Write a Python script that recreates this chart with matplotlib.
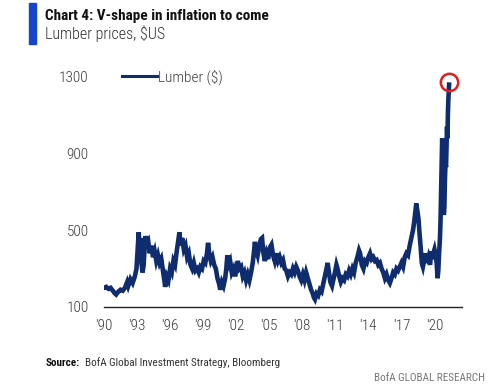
import matplotlib
matplotlib.use("Agg")
import matplotlib.pyplot as plt
import numpy as np

plt.rcParams['font.family'] = ['Roboto Condensed', 'Liberation Sans Narrow', 'Lato', 'DejaVu Sans']

# lumber price (decimal year, $)
years = [
    1990.0, 1990.2, 1990.4, 1990.6, 1990.8, 1991.0, 1991.1, 1991.3, 1991.5, 1991.7,
    1991.9, 1992.1, 1992.2, 1992.4, 1992.6, 1992.8, 1992.95, 1993.05, 1993.15, 1993.22,
    1993.3, 1993.4, 1993.5, 1993.6, 1993.75, 1993.85, 1994.0, 1994.15, 1994.3, 1994.45,
    1994.6, 1994.75, 1994.9, 1995.05, 1995.2, 1995.35, 1995.5, 1995.55, 1995.7, 1995.85,
    1996.0, 1996.15, 1996.3, 1996.45, 1996.6, 1996.75, 1996.85, 1996.95, 1997.1, 1997.25,
    1997.4, 1997.55, 1997.7, 1997.85, 1998.0, 1998.15, 1998.3, 1998.45, 1998.6, 1998.75,
    1998.9, 1999.05, 1999.2, 1999.35, 1999.45, 1999.55, 1999.7, 1999.85, 2000.0, 2000.15,
    2000.3, 2000.45, 2000.55, 2000.7, 2000.85, 2001.0, 2001.1, 2001.2, 2001.3, 2001.45,
    2001.6, 2001.75, 2001.9, 2002.0, 2002.15, 2002.3, 2002.45, 2002.6, 2002.75, 2002.9,
    2003.05, 2003.2, 2003.35, 2003.5, 2003.6, 2003.7, 2003.8, 2003.95, 2004.1, 2004.25,
    2004.35, 2004.45, 2004.6, 2004.75, 2004.9, 2005.05, 2005.2, 2005.35, 2005.5, 2005.65,
    2005.8, 2005.95, 2006.1, 2006.25, 2006.4, 2006.55, 2006.7, 2006.85, 2007.0, 2007.15,
    2007.3, 2007.45, 2007.6, 2007.75, 2007.9, 2008.05, 2008.2, 2008.35, 2008.5, 2008.65,
    2008.8, 2008.95, 2009.05, 2009.15, 2009.3, 2009.45, 2009.6, 2009.75, 2009.9, 2010.05,
    2010.2, 2010.3, 2010.4, 2010.55, 2010.7, 2010.85, 2011.0, 2011.1, 2011.2, 2011.35,
    2011.5, 2011.65, 2011.8, 2011.95, 2012.1, 2012.25, 2012.4, 2012.55, 2012.7, 2012.85,
    2013.0, 2013.15, 2013.25, 2013.4, 2013.55, 2013.7, 2013.85, 2014.0, 2014.15, 2014.3,
    2014.45, 2014.6, 2014.75, 2014.9, 2015.05, 2015.2, 2015.35, 2015.5, 2015.65, 2015.8,
    2015.95, 2016.1, 2016.25, 2016.4, 2016.55, 2016.7, 2016.85, 2017.0, 2017.15, 2017.3,
    2017.45, 2017.6, 2017.75, 2017.9, 2018.05, 2018.15, 2018.25, 2018.35, 2018.45, 2018.55,
    2018.65, 2018.75, 2018.85, 2018.95, 2019.05, 2019.2, 2019.3, 2019.45, 2019.6, 2019.7,
    2019.8, 2019.9, 2020.0, 2020.1, 2020.2, 2020.28, 2020.35, 2020.42, 2020.5, 2020.55,
    2020.6, 2020.65, 2020.7, 2020.75, 2020.8, 2020.85, 2020.9, 2020.95, 2021.0, 2021.05,
    2021.1, 2021.14, 2021.18, 2021.22, 2021.26, 2021.3, 2021.33,
]
lumber = [
    200, 205, 195, 200, 185, 170, 165, 180, 190, 185,
    200, 230, 210, 245, 225, 260, 300, 400, 490, 420,
    460, 330, 280, 320, 470, 440, 450, 380, 420, 360,
    390, 340, 370, 330, 350, 290, 230, 205, 260, 240,
    300, 280, 340, 320, 390, 450, 490, 420, 460, 400,
    420, 360, 380, 320, 300, 330, 290, 300, 280, 310,
    300, 340, 330, 380, 435, 380, 340, 360, 320, 300,
    250, 220, 190, 230, 210, 250, 300, 370, 320, 340,
    280, 300, 260, 290, 340, 300, 310, 260, 280, 240,
    270, 240, 280, 330, 380, 440, 400, 370, 420, 455,
    460, 390, 340, 380, 350, 410, 425, 370, 340, 380,
    340, 360, 330, 345, 300, 290, 260, 280, 270, 300,
    280, 310, 290, 260, 240, 270, 240, 280, 250, 220,
    190, 170, 150, 140, 170, 160, 190, 180, 220, 260,
    300, 330, 290, 230, 210, 250, 290, 320, 300, 260,
    230, 250, 240, 270, 260, 290, 270, 300, 280, 330,
    360, 395, 380, 320, 300, 340, 330, 360, 380, 350,
    360, 340, 345, 320, 330, 300, 280, 250, 270, 240,
    225, 250, 280, 270, 300, 290, 310, 330, 310, 360,
    380, 370, 420, 460, 500, 540, 590, 640, 600, 560,
    480, 410, 330, 310, 340, 380, 330, 360, 320, 390,
    350, 380, 400, 370, 330, 250, 290, 380, 460, 550,
    700, 850, 980, 900, 700, 580, 620, 760, 850, 830,
    940, 1040, 980, 1110, 1180, 1220, 1260,
]
yticks = [100, 500, 900, 1300]
xtick_years = [1990, 1993, 1996, 1999, 2002, 2005, 2008, 2011, 2014, 2017, 2020]
xtick_labels = ["'90", "'93", "'96", "'99", "'02", "'05", "'08", "'11", "'14", "'17", "'20"]

navy = '#0f2c6e'
grey = '#3a3a3a'

fig = plt.figure(figsize=(5, 3.89), dpi=100)
ax = fig.add_axes([0.208, 0.2108, 0.716, 0.616])

ax.plot(years, lumber, color=navy, lw=3.3, solid_joinstyle='miter', label='Lumber ($)')
# red ring around the latest high
ax.plot([years[-1]], [lumber[-1] + 15], marker='o', ms=12.5, mfc='none',
        mec='#e0201b', mew=1.8, ls='none')

ax.set_xlim(1990, 2022.5)
ax.set_ylim(100, 1350)
ax.set_yticks(yticks)
ax.set_xticks(xtick_years)
ax.set_xticklabels(xtick_labels)
ax.tick_params(length=0, labelsize=11, colors=grey, pad=9)
ax.tick_params(axis='y', pad=11)
for lab in ax.get_xticklabels() + ax.get_yticklabels():
    lab.set_fontweight('light')
for s in ['top', 'right', 'left']:
    ax.spines[s].set_visible(False)
ax.spines['bottom'].set_color('#222222')
ax.spines['bottom'].set_linewidth(1.0)

leg = ax.legend(loc='center left', bbox_to_anchor=(0.032, 0.96), frameon=False,
                fontsize=11, handlelength=2.3, handletextpad=0.1, borderaxespad=0.0)
for t in leg.get_texts():
    t.set_color(grey)
    t.set_fontweight('light')
for h in leg.get_lines():
    h.set_linewidth(2.2)

# header
fig.patches.append(plt.Rectangle((29 / 500, 1 - 44 / 389), 7 / 500, 41 / 389,
                                 transform=fig.transFigure, color='#1545d0'))
fig.text(45 / 500, 1 - 16 / 389, 'Chart 4: V-shape in inflation to come',
         fontsize=11, fontweight='bold', color='#111111', va='center')
fig.text(45 / 500, 1 - 34 / 389, 'Lumber prices, $US',
         fontsize=11.5, fontweight='light', color='#333333', va='center')

# footer
src = fig.text(46 / 500, 1 - 363 / 389, 'Source:', fontsize=8, fontweight='bold',
               color='#111111', va='center')
fig.canvas.draw()
bb = src.get_window_extent()
fig.text((bb.x1 + 5) / 500, 1 - 363 / 389, 'BofA Global Investment Strategy, Bloomberg',
         fontsize=8, color='#333333', va='center')
fig.text(485 / 500, 1 - 378 / 389, 'BofA GLOBAL RESEARCH', fontsize=8,
         color='#777777', va='center', ha='right')

fig.savefig('out.png', dpi=100)
